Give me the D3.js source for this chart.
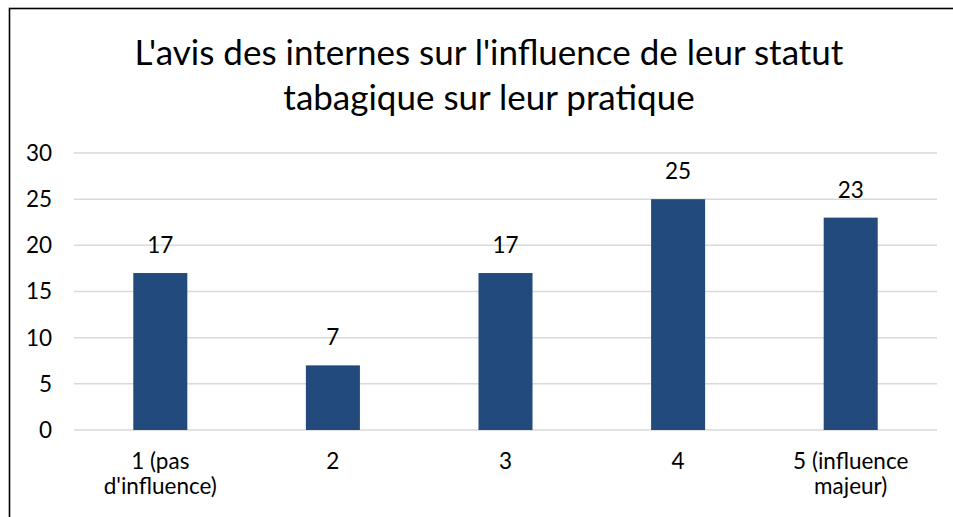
<!DOCTYPE html>
<html><head><meta charset="utf-8">
<script src="https://cdn.jsdelivr.net/npm/d3@7/dist/d3.min.js"></script>
<style>html,body{margin:0;padding:0;background:#fff;overflow:hidden}svg{display:block}</style>
</head><body>
<script>
const titleLines = ["L'avis des internes sur l'influence de leur statut", "tabagique sur leur pratique"];
const categories = [["1 (pas", "d'influence)"], ["2"], ["3"], ["4"], ["5 (influence", "majeur)"]];
const values = [17, 7, 17, 25, 23];
const yTicks = [0, 5, 10, 15, 20, 25, 30];

(function () {
const W = 953, H = 517;
const font = "Lato, 'Open Sans', sans-serif";
const fs = 22.5;
const svg = d3.select("body").append("svg").attr("width", W).attr("height", H);

svg.append("rect").attr("x", 9.5).attr("y", 8.5).attr("width", 1000).attr("height", 600)
  .attr("fill", "#fff").attr("stroke", "#000").attr("stroke-width", 1.6);

const pLeft = 74, pRight = 937, pTop = 153, pBottom = 430;
const x = d3.scaleBand().domain(d3.range(values.length)).range([pLeft, pRight])
  .paddingInner(0.687).paddingOuter(0.3435);
const y = d3.scaleLinear().domain([0, 30]).range([pBottom, pTop]);

svg.append("g").selectAll("line").data(yTicks).join("line")
  .attr("x1", pLeft).attr("x2", pRight)
  .attr("y1", d => y(d)).attr("y2", d => y(d))
  .attr("stroke", "#d9d9d9").attr("stroke-width", 1.5);

svg.append("g").selectAll("text").data(yTicks).join("text")
  .attr("x", 52).attr("y", d => y(d)).attr("dy", "0.35em")
  .attr("text-anchor", "end").attr("font-family", font).attr("font-size", fs).attr("fill", "#000")
  .text(d => d);

svg.append("g").selectAll("rect").data(values).join("rect")
  .attr("x", (d, i) => x(i)).attr("width", x.bandwidth())
  .attr("y", d => y(d)).attr("height", d => y(0) - y(d))
  .attr("fill", "#234a7c");

svg.append("g").selectAll("text").data(values).join("text")
  .attr("x", (d, i) => x(i) + x.bandwidth() / 2).attr("y", d => y(d) - 20)
  .attr("text-anchor", "middle").attr("font-family", font).attr("font-size", fs).attr("fill", "#000")
  .text(d => d);

const cat = svg.append("g").selectAll("text").data(categories).join("text")
  .attr("text-anchor", "middle").attr("font-family", font).attr("font-size", fs).attr("fill", "#000")
  .attr("transform", (d, i) => `translate(${x(i) + x.bandwidth() / 2},0)`);
cat.selectAll("tspan").data(d => d).join("tspan")
  .attr("x", 0).attr("y", (d, j) => 469 + j * 25).text(d => d);

svg.append("text").attr("text-anchor", "middle").attr("font-family", font).attr("font-size", 35)
  .attr("fill", "#000")
  .selectAll("tspan").data(titleLines).join("tspan")
  .attr("x", 489).attr("y", (d, i) => 65 + i * 45).text(d => d);
})();
</script>
</body></html>
